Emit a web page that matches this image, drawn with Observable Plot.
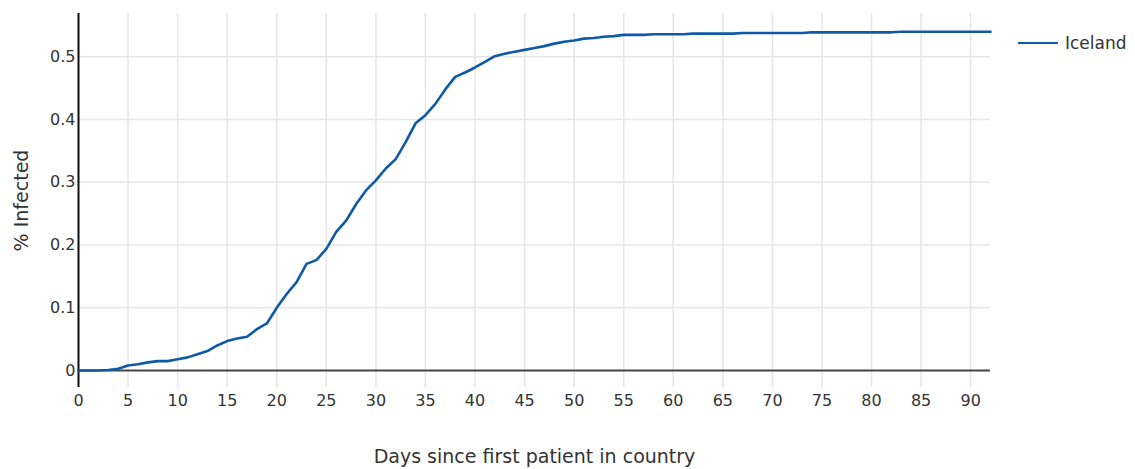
<!DOCTYPE html>
<html>
<head>
<meta charset="utf-8">
<script src="https://cdn.jsdelivr.net/npm/d3@7"></script>
<script src="https://cdn.jsdelivr.net/npm/@observablehq/plot@0.6"></script>
<style>
  html, body { margin: 0; padding: 0; background: #fff; }
  #wrap { position: relative; width: 1135px; height: 469px; font-family: "DejaVu Sans", Verdana, sans-serif; }
  #legend { position: absolute; left: 1018px; top: 33px; display: flex; align-items: center; font-size: 17px; color: #333; }
  #legend .sw { width: 40px; height: 0; border-top: 2.5px solid #0f5aa6; margin-right: 7px; }
</style>
</head>
<body>
<div id="wrap"><div id="chart"></div><div id="legend"></div></div>
<script>
const seriesName = "Iceland";
const days = d3.range(0, 93);
const infected = [
  0.000, 0.000, 0.000, 0.001, 0.003, 0.008, 0.010, 0.013, 0.015, 0.015,
  0.018, 0.021, 0.026, 0.031, 0.040, 0.047, 0.051, 0.054, 0.066, 0.075,
  0.100, 0.122, 0.141, 0.170, 0.176, 0.194, 0.221, 0.239, 0.265, 0.287,
  0.303, 0.322, 0.337, 0.364, 0.394, 0.407, 0.425, 0.448, 0.468, 0.475,
  0.483, 0.492, 0.501, 0.505, 0.508, 0.511, 0.514, 0.517, 0.521, 0.524,
  0.526, 0.529, 0.530, 0.532, 0.533, 0.535, 0.535, 0.535, 0.536, 0.536,
  0.536, 0.536, 0.537, 0.537, 0.537, 0.537, 0.537, 0.538, 0.538, 0.538,
  0.538, 0.538, 0.538, 0.538, 0.539, 0.539, 0.539, 0.539, 0.539, 0.539,
  0.539, 0.539, 0.539, 0.540, 0.540, 0.540, 0.540, 0.540, 0.540, 0.540,
  0.540, 0.540, 0.540
];
const xTicks = d3.range(0, 95, 5);
const yTicks = [0, 0.1, 0.2, 0.3, 0.4, 0.5];
const xLabel = "Days since first patient in country";
const yLabel = "% Infected";

const data = days.map((d, i) => ({day: d, value: infected[i], country: seriesName}));
const color = "#0f5aa6";

const chart = Plot.plot({
  width: 1135,
  height: 469,
  marginLeft: 78,
  marginRight: 145,
  marginTop: 13,
  marginBottom: 82,
  style: {fontFamily: "DejaVu Sans, Verdana, sans-serif", fontSize: "16px", color: "#333", background: "#fff"},
  x: {domain: [0, 92]},
  y: {domain: [-0.027, 0.569]},
  marks: [
    Plot.gridX(xTicks, {stroke: "#e6e6e6", strokeOpacity: 1, strokeWidth: 1.5}),
    Plot.gridY(yTicks.filter(d => d !== 0), {stroke: "#e6e6e6", strokeOpacity: 1, strokeWidth: 1.5}),
    Plot.ruleY([0], {stroke: "#444", strokeWidth: 2}),
    Plot.axisX({ticks: xTicks, tickSize: 0, tickPadding: 7, tickFormat: d => String(d), fill: "#333", fontSize: 16,
      label: xLabel, labelAnchor: "center", labelArrow: "none", labelOffset: 75}),
    Plot.axisY({ticks: yTicks, tickSize: 0, tickPadding: 3, fill: "#333", fontSize: 16,
      tickFormat: d => d === 0 ? "0" : d3.format(".1f")(d),
      label: yLabel, labelAnchor: "center", labelArrow: "none", labelOffset: 64}),
    Plot.ruleX([0], {stroke: "#111", strokeWidth: 2}),
    Plot.line(data, {x: "day", y: "value", stroke: color, strokeWidth: 2.6, curve: "linear"})
  ]
});
document.getElementById("chart").appendChild(chart);
chart.querySelectorAll("[aria-label='x-axis label'], [aria-label='y-axis label']").forEach(g => {
  g.setAttribute("font-size", "19");
  g.querySelectorAll("text").forEach(t => t.style.fontSize = "19px");
});

const lg = document.getElementById("legend");
lg.innerHTML = `<span class="sw"></span><span>${seriesName}</span>`;
</script>
</body>
</html>
